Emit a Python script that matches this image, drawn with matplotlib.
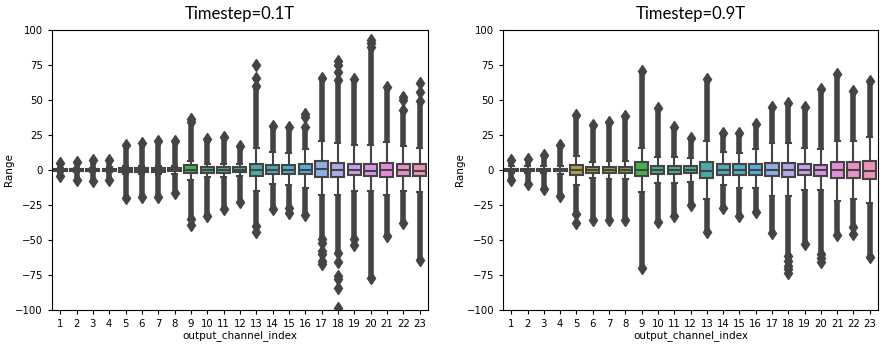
import matplotlib
matplotlib.use("Agg")
import matplotlib.pyplot as plt
import seaborn as sns

channels = list(range(1, 24))
titles = ["Timestep=0.1T", "Timestep=0.9T"]

# ---- Timestep=0.1T ----
t1_q1 = [-0.5, -0.6, -0.6, -0.7, -1.3, -1.2, -1.2, -1.1, -2.3, -1.9, -1.9, -1.8,
         -4.5, -2.7, -3.0, -3.0, -5.1, -5.0, -3.6, -4.2, -5.2, -4.2, -4.4]
t1_med = [0, 0, 0, 0, 0, 0, 0, 0, 0, 0, 0, 0,
          0, 0.2, 0, 0, 0.6, 0, 0, -0.9, 0, 0, -0.5]
t1_q3 = [0.5, 0.6, 0.6, 0.7, 1.3, 1.2, 1.3, 1.1, 3.2, 2.0, 2.0, 1.8,
         4.4, 3.4, 3.5, 4.4, 6.1, 5.2, 4.4, 4.0, 5.2, 4.4, 4.4]
t1_wlo = [-1.5, -1.6, -1.6, -1.8, -3.0, -3.0, -3.0, -3.0, -7.0, -4.8, -4.8, -4.5,
          -15, -10, -11, -12.7, -17.6, -17.6, -15, -15, -18, -15, -16]
t1_whi = [1.5, 1.6, 1.6, 1.8, 3.1, 3.1, 3.1, 3.1, 6.7, 4.3, 4.3, 4.3,
          16, 12.7, 12, 14.6, 21, 19, 17.7, 17.7, 20, 17, 16]
t1_top = [5, 6, 6.8, 6.8, 18, 19.5, 20.5, 20.5, 34, 22, 23.5, 17,
          60, 31.5, 30.7, 30.5, 66, 64, 65, 88, 59.5, 42.5, 49]
t1_bot = [-4.5, -7, -8, -7, -20, -19, -19, -16.5, -35, -33, -27.6, -22.8,
          -40, -27.6, -27, -32, -49.5, -59, -49.5, -77, -47, -38, -64]
t1_out_hi = [[], [], [], [], [], [], [], [], [36.7], [], [], [],
             [66, 75], [], [], [38, 40], [], [70, 75, 77.6], [], [91, 93], [], [50, 52], [56, 62]]
t1_out_lo = [[], [], [], [], [], [], [], [], [-39.5], [], [], [],
             [-44], [], [-30.5], [], [-52, -58, -60, -65, -67.5], [-66, -75.7, -78, -84, -98.5],
             [-53.5], [], [], [], []]

# ---- Timestep=0.9T ----
t2_q1 = [-0.7, -0.7, -0.7, -1.0, -3.4, -1.9, -2.0, -2.0, -4.6, -3.0, -3.0, -2.5,
         -5.8, -3.4, -3.5, -3.4, -4.6, -5.0, -3.6, -4.2, -5.6, -5.6, -6.2]
t2_med = [0, 0, 0, 0, 0, 0, 0, 0, 0, 0, 0, 0,
          -0.5, 0, 0, 0, 0, 0, 0, 0, 0, 0, -0.5]
t2_q3 = [0.7, 0.7, 0.7, 1.0, 3.7, 2.0, 2.0, 2.0, 5.6, 2.5, 2.5, 2.5,
         5.6, 4.0, 4.0, 4.0, 5.2, 5.2, 4.4, 3.5, 5.6, 5.6, 6.3]
t2_wlo = [-2.5, -2.5, -2.5, -3.0, -11, -5.7, -6.5, -6.5, -16, -9, -9, -8.6,
          -20.7, -11, -12.7, -12.7, -18.3, -18.3, -14, -14, -22, -20.7, -23.5]
t2_whi = [2.5, 2.5, 2.5, 3.0, 10, 5.5, 6.7, 6.7, 16, 9, 9, 8.6,
          21, 12.7, 12, 14.6, 19, 19, 15.6, 14.6, 20.5, 20.5, 23.5]
t2_top = [7, 8, 11, 18, 39.5, 32, 34, 38.5, 71, 44.5, 31, 22.5,
          65, 26.5, 26.5, 33, 45, 47.5, 45, 58, 68.5, 56.5, 63.5]
t2_bot = [-7.5, -10, -13.5, -18.5, -31.5, -35.5, -35.5, -35.5, -70, -37.5, -33, -25,
          -44, -27, -33, -30, -45, -61.5, -53, -60, -46.5, -41, -62]
t2_out_hi = [[] for _ in channels]
t2_out_lo = [[], [], [], [], [-37.7], [], [], [], [], [], [], [],
             [], [], [], [], [], [-65, -68.6, -71, -73.4], [], [-62.7, -66], [], [-45.5], []]

panels = [
    (t1_q1, t1_med, t1_q3, t1_wlo, t1_whi, t1_top, t1_bot, t1_out_hi, t1_out_lo),
    (t2_q1, t2_med, t2_q3, t2_wlo, t2_whi, t2_top, t2_bot, t2_out_hi, t2_out_lo),
]

pal = [sns.desaturate(c, 0.75) for c in sns.husl_palette(len(channels), l=.7)]
gray = "#444444"

fig = plt.figure(figsize=(8.85, 3.44), dpi=100)
axes = [fig.add_axes([0.0588, 0.099, 0.4245, 0.814]),
        fig.add_axes([0.5685, 0.099, 0.4235, 0.814])]

for ax, title, (q1, med, q3, wlo, whi, top, bot, ohi, olo) in zip(axes, titles, panels):
    pos = list(range(len(channels)))
    stats = [dict(med=m, q1=a, q3=b, whislo=lo, whishi=hi, fliers=[])
             for m, a, b, lo, hi in zip(med, q1, q3, wlo, whi)]
    bp = ax.bxp(stats, positions=pos, widths=0.8, patch_artist=True,
                showfliers=False, capwidths=0.3,
                boxprops=dict(edgecolor=gray, linewidth=1.5),
                medianprops=dict(color=gray, linewidth=1.5),
                whiskerprops=dict(color=gray, linewidth=1.5),
                capprops=dict(color=gray, linewidth=1.5))
    for patch, c in zip(bp["boxes"], pal):
        patch.set_facecolor(c)

    # dense outlier columns beyond the whiskers
    ax.vlines(pos, whi, top, color=gray, linewidth=4.0, zorder=1.5)
    ax.vlines(pos, bot, wlo, color=gray, linewidth=4.0, zorder=1.5)
    for x, t, b, hs, ls in zip(pos, top, bot, ohi, olo):
        ys = [t, b] + hs + ls
        ax.plot([x] * len(ys), ys, linestyle="none", marker="d", markersize=6,
                color=gray, markeredgecolor=gray, zorder=1.6)

    ax.set_xlim(-0.5, len(channels) - 0.5)
    ax.set_ylim(-100, 100)
    ax.set_yticks([-100, -75, -50, -25, 0, 25, 50, 75, 100])
    ax.set_xticks(pos)
    ax.set_xticklabels([str(c) for c in channels])
    ax.tick_params(labelsize=7.3, length=3)
    ax.set_xlabel("output_channel_index", fontsize=7.5, labelpad=1)
    ax.set_ylabel("Range", fontsize=7.5, labelpad=1)
    ax.set_title(title, fontsize=12, family=["Lato", "DejaVu Sans"], pad=8)

fig.savefig("out.png", dpi=100)
